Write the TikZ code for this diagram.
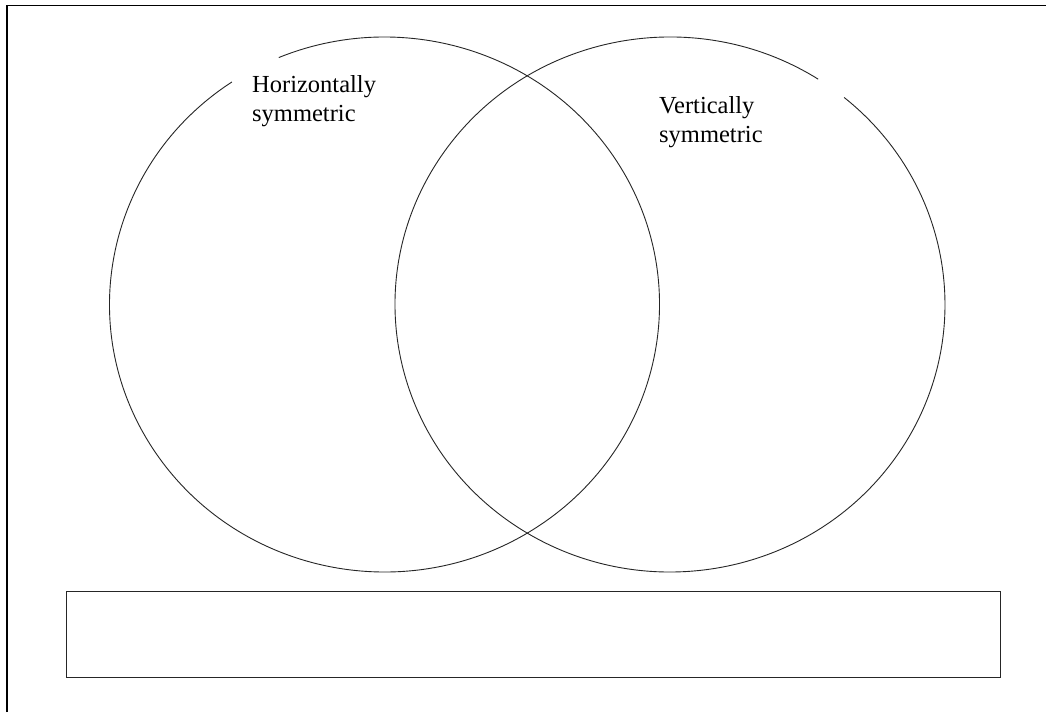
\documentclass[tikz,border=0pt]{standalone}
\usepackage{fontspec}
\setmainfont{Liberation Serif}
\begin{document}
\begin{tikzpicture}[x=1pt,y=1pt,
  frameline/.style={line width=1.6pt,draw=black},
  ring/.style={line width=0.9pt,draw=black!85},
  boxline/.style={line width=1.3pt,draw=black!85},
  label/.style={font=\fontsize{24.5}{29}\selectfont,align=left,inner sep=0pt,anchor=north west}]
\useasboundingbox (0,0) rectangle (1046,712);
\fill[white] (0,0) rectangle (1046,712);
% outer frame (only top and left edges are inside the picture)
\coordinate (fbl) at (7,0);
\coordinate (ftl) at (7,706.5);
\coordinate (ftr) at (1046,706.5);
\draw[frameline] (fbl) -- (ftl) -- (ftr);
% circles
\coordinate (cl) at (384.5,407.5);
\coordinate (cr) at (670,407.5);
\draw[ring] (cl) ++(123.7:275 and 267.5) arc[start angle=123.7,end angle=472.6,x radius=275,y radius=267.5];
\draw[ring] (cr) ++(57.4:275 and 267.5) arc[start angle=57.4,end angle=410.7,x radius=275,y radius=267.5];
% labels
\node[label] (hs) at (252,637) {Horizontally\\symmetric};
\node[label] (vs) at (659,616) {Vertically\\symmetric};
% bottom box
\node[boxline,draw,minimum width=934pt,minimum height=86pt,inner sep=0pt,anchor=south west] (box) at (66,34) {};
\end{tikzpicture}
\end{document}
